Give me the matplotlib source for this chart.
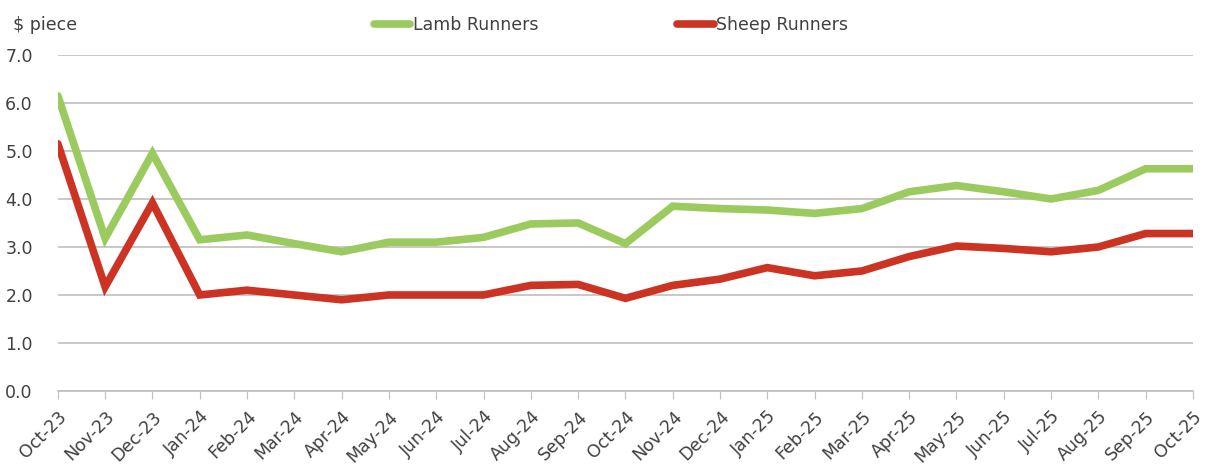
import matplotlib
matplotlib.use("Agg")
import matplotlib.pyplot as plt

# months on the x axis
months = ["Oct-23", "Nov-23", "Dec-23", "Jan-24", "Feb-24", "Mar-24", "Apr-24",
          "May-24", "Jun-24", "Jul-24", "Aug-24", "Sep-24", "Oct-24", "Nov-24",
          "Dec-24", "Jan-25", "Feb-25", "Mar-25", "Apr-25", "May-25", "Jun-25",
          "Jul-25", "Aug-25", "Sep-25", "Oct-25"]

# $ per piece
lamb = [6.15, 3.18, 4.95, 3.15, 3.25, 3.07, 2.9, 3.1, 3.1, 3.2, 3.48, 3.5,
        3.07, 3.85, 3.8, 3.77, 3.7, 3.8, 4.15, 4.28, 4.15, 4.0, 4.18, 4.63, 4.63]
sheep = [5.15, 2.17, 3.92, 2.0, 2.1, 2.0, 1.9, 2.0, 2.0, 2.0, 2.2, 2.22,
         1.93, 2.2, 2.33, 2.57, 2.4, 2.5, 2.8, 3.02, 2.97, 2.9, 3.0, 3.28, 3.28]

textcol = "#404040"
plt.rcParams["font.family"] = "DejaVu Sans"
plt.rcParams["font.size"] = 12.5

fig = plt.figure(figsize=(12.05, 4.66), dpi=100)
ax = fig.add_axes([0.048, 0.161, 0.942, 0.721])

x = range(len(months))
ax.plot(x, lamb, color="#9BCB5F", lw=5.5, label="Lamb Runners",
        solid_joinstyle="miter", solid_capstyle="round")
ax.plot(x, sheep, color="#CC3322", lw=5.5, label="Sheep Runners",
        solid_joinstyle="miter", solid_capstyle="round")

ax.set_xlim(0, len(months) - 1)
ax.set_ylim(0, 7)
ax.set_yticks([0, 1, 2, 3, 4, 5, 6, 7])
ax.set_yticklabels(["%.1f" % v for v in range(8)])
ax.set_xticks(list(x))
ax.set_xticklabels(months, rotation=45, ha="right", rotation_mode="anchor")

ax.grid(axis="y", color="#BFBFBF", lw=1.2)
ax.set_axisbelow(True)
for s in ["top", "right", "left"]:
    ax.spines[s].set_visible(False)
ax.spines["bottom"].set_color("#BFBFBF")
ax.spines["bottom"].set_linewidth(1.2)
ax.tick_params(axis="y", length=0, pad=18, colors=textcol)
ax.tick_params(axis="x", length=6, color="#BFBFBF", colors=textcol, pad=6)

fig.text(0.011, 0.935, "$ piece", color=textcol, fontsize=12.5)

leg = fig.legend(loc="upper center", bbox_to_anchor=(0.507, 1.0), ncol=2,
                 frameon=False, handlelength=2.1, handletextpad=0.15,
                 columnspacing=8.0, labelcolor=textcol)

fig.savefig("out.png", dpi=100)
